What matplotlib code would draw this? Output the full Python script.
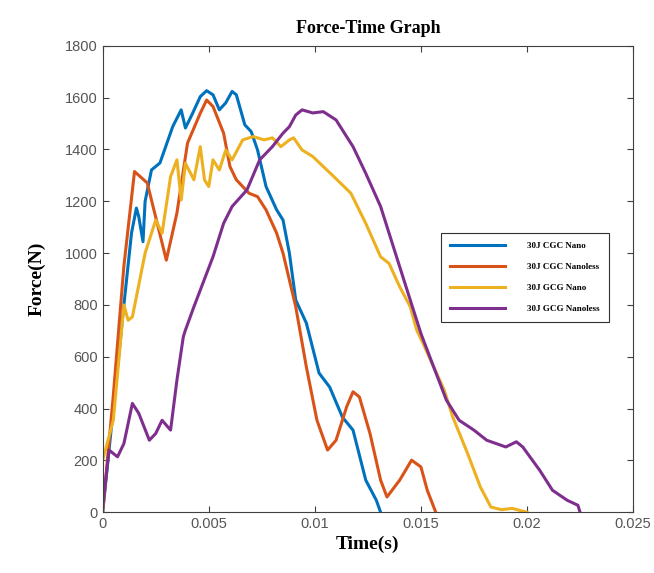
import numpy as np
import matplotlib.pyplot as plt

# 30J CGC Nano
t_cgc_nano = [0, 0.0005, 0.001, 0.00136, 0.00159, 0.0017, 0.0019, 0.002, 0.0023, 0.0027, 0.0033,
              0.0037, 0.0039, 0.0042, 0.0046, 0.0049, 0.0052, 0.0055, 0.0058, 0.0061, 0.0063,
              0.0067, 0.0070, 0.0073, 0.0077, 0.0082, 0.0085, 0.0088, 0.0091, 0.0096, 0.0102,
              0.0107, 0.0113, 0.0118, 0.0124, 0.0129, 0.0131]
f_cgc_nano = [0, 400, 800, 1078, 1174, 1141, 1044, 1200, 1321, 1348, 1488,
              1553, 1483, 1533, 1604, 1627, 1611, 1553, 1580, 1624, 1611,
              1495, 1469, 1398, 1257, 1167, 1128, 1000, 819, 730, 537,
              483, 367, 317, 124, 46, 0]

# 30J CGC Nanoless
t_cgc_nanoless = [0, 0.0005, 0.001, 0.0015, 0.0021, 0.0030, 0.0035, 0.0040, 0.0046, 0.0049,
                  0.0052, 0.0057, 0.0060, 0.0063, 0.0069, 0.0073, 0.0077, 0.0082, 0.0085,
                  0.0091, 0.0096, 0.0101, 0.0106, 0.0110, 0.0115, 0.0118, 0.0121, 0.0126,
                  0.0131, 0.0134, 0.0140, 0.01456, 0.0150, 0.0153, 0.0157]
f_cgc_nanoless = [0, 450, 950, 1315, 1271, 973, 1155, 1425, 1540, 1591,
                  1566, 1463, 1334, 1283, 1231, 1218, 1167, 1077, 1000,
                  793, 561, 355, 240, 278, 407, 465, 445, 304,
                  124, 59, 124, 201, 175, 85, 0]

# 30J GCG Nano
t_gcg_nano = [0, 0.0005, 0.001, 0.0012, 0.0014, 0.002, 0.0025, 0.0028, 0.0032, 0.0035, 0.0037,
              0.0039, 0.0043, 0.0046, 0.0048, 0.0050, 0.0052, 0.0055, 0.0058, 0.0061, 0.0066,
              0.0071, 0.0076, 0.0080, 0.0084, 0.0088, 0.0090, 0.0094, 0.0099, 0.0104, 0.0109,
              0.0117, 0.0124, 0.0131, 0.0135, 0.0140, 0.0145, 0.0148, 0.0151, 0.0156, 0.0161,
              0.0165, 0.0172, 0.0178, 0.0183, 0.0188, 0.0193, 0.0200]
f_gcg_nano = [200, 355, 800, 741, 754, 1000, 1128, 1077, 1295, 1360, 1205,
              1347, 1283, 1411, 1283, 1257, 1360, 1321, 1398, 1360, 1437,
              1450, 1437, 1445, 1411, 1437, 1445, 1398, 1373, 1334, 1295,
              1231, 1115, 986, 960, 870, 793, 703, 652, 561, 471,
              368, 227, 98, 20, 10, 15, 0]

# 30J GCG Nanoless
t_gcg_nanoless = [0, 0.0003, 0.0007, 0.0010, 0.0014, 0.0017, 0.0022, 0.0025, 0.0028, 0.0032,
                  0.0035, 0.0038, 0.0039, 0.0043, 0.0052, 0.0057, 0.0061, 0.0068, 0.0074,
                  0.0080, 0.0085, 0.0088, 0.0091, 0.0094, 0.0099, 0.0104, 0.0110, 0.0118,
                  0.0124, 0.0131, 0.0137, 0.0143, 0.0150, 0.0156, 0.0162, 0.0168, 0.0175,
                  0.0181, 0.0190, 0.0195, 0.0198, 0.0206, 0.0212, 0.0219, 0.0224, 0.0225]
f_gcg_nanoless = [20, 240, 214, 265, 420, 382, 278, 304, 355, 317,
                  510, 677, 703, 793, 986, 1115, 1180, 1244, 1360,
                  1411, 1463, 1488, 1533, 1553, 1541, 1546, 1514, 1411,
                  1308, 1180, 1025, 870, 690, 561, 433, 355, 317,
                  278, 252, 272, 252, 162, 85, 46, 27, 0]

labels = ['30J CGC Nano', '30J CGC Nanoless', '30J GCG Nano', '30J GCG Nanoless']
colors = ['#0072BD', '#D95319', '#EDB120', '#7E2F8E']

fig = plt.figure(figsize=(6.54, 5.73), dpi=100)
ax = fig.add_axes([0.157, 0.106, 0.811, 0.814])

series = [(t_cgc_nano, f_cgc_nano), (t_cgc_nanoless, f_cgc_nanoless),
          (t_gcg_nano, f_gcg_nano), (t_gcg_nanoless, f_gcg_nanoless)]
for (t, f), lab, c in zip(series, labels, colors):
    ax.plot(t, f, color=c, lw=2.2, label=lab)

ax.set_xlim(0, 0.025)
ax.set_ylim(0, 1800)
ax.set_xticks([0, 0.005, 0.01, 0.015, 0.02, 0.025])
ax.set_xticklabels(['0', '0.005', '0.01', '0.015', '0.02', '0.025'])
ax.set_yticks(np.arange(0, 1801, 200))
ax.tick_params(direction='in', top=True, right=True, labelsize=10.5, colors='#404040',
               labelcolor='#555555', length=4)
for lbl in ax.get_xticklabels() + ax.get_yticklabels():
    lbl.set_fontfamily('Liberation Sans')
for s in ax.spines.values():
    s.set_color('#404040')

serif = 'Liberation Serif'
ax.set_title('Force-Time Graph', fontfamily=serif, fontweight='bold', fontsize=13, pad=9)
ax.set_xlabel('Time(s)', fontfamily=serif, fontweight='bold', fontsize=14, labelpad=3)
ax.set_ylabel('Force(N)', fontfamily=serif, fontweight='bold', fontsize=14, labelpad=14)

leg = ax.legend(loc='center left', bbox_to_anchor=(0.63, 0.504), prop={'family': serif, 'weight': 'bold', 'size': 6.5},
                handlelength=6, labelspacing=1.4, borderpad=1.0, handletextpad=2.5,
                fancybox=False, framealpha=1, edgecolor='#303030')
leg.get_frame().set_linewidth(0.8)

fig.savefig('out.png', dpi=100)
